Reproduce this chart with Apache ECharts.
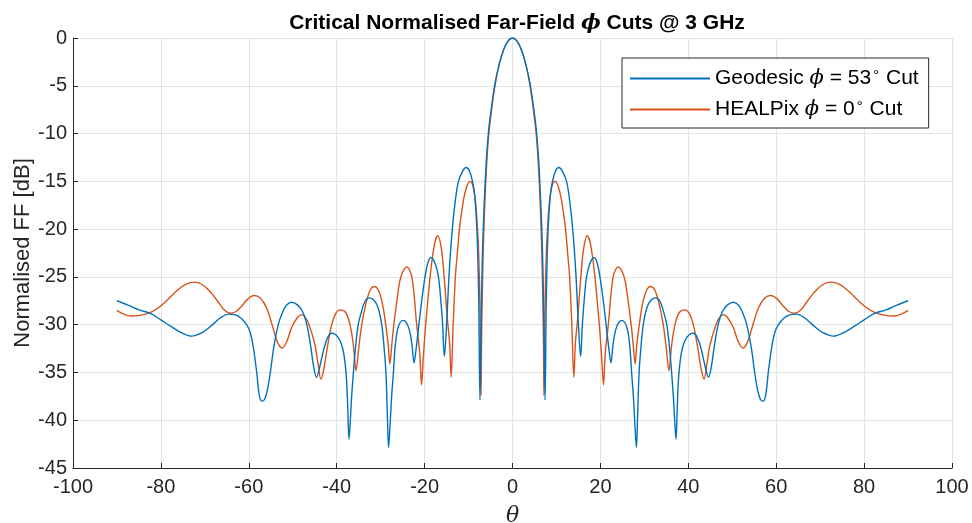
<!DOCTYPE html>
<html>
<head>
<meta charset="utf-8">
<script src="https://cdn.jsdelivr.net/npm/echarts@6/dist/echarts.min.js"></script>
<style>
html,body{margin:0;padding:0;background:#fff;}
#chart{width:972px;height:523px;}
</style>
</head>
<body>
<div id="chart"></div>
<script>
// Geodesic phi = 53 deg cut
var geoTheta = [
  -90, -87.5, -85, -82.5, -80, -78, -75.5, -73, -70.5, -68.5,
  -66.5, -64.6, -63.2, -61.8, -60.5, -59.7, -59, -58.2, -57.6, -57,
  -56.4, -55.8, -55.1, -54.3, -53.3, -52.5, -51.5, -50.3, -49, -47.8,
  -46.8, -46, -45.2, -44.6, -43.8, -42.9, -42, -41.1, -40.2, -39.2,
  -38.4, -37.8, -37.5, -37.2, -36.9, -36.6, -36.2, -35.7, -35.1, -34.4,
  -33.6, -32.6, -31.6, -30.6, -29.75, -29.2, -28.8, -28.5, -28.2, -27.8,
  -27.5, -27.1, -26.7, -26.2, -25.6, -24.9, -24.2, -23.5, -22.9, -22.4,
  -22, -21.3, -20.6, -19.9, -19.3, -18.6, -17.6, -16.85, -16.3, -15.9,
  -15.5, -15, -14.4, -13.7, -13, -12.3, -11.3, -10.55, -9.8, -9.1,
  -8.6, -8.1, -7.7, -7.4, -7.2, -7, -6.8, -6.5, -6, -5.5,
  -5, -4, -3, -2, -1, 0, 1, 2, 3, 4,
  5, 5.5, 6, 6.5, 6.8, 7, 7.2, 7.4, 7.7, 8.1,
  8.6, 9.1, 9.8, 10.55, 11.3, 12.3, 13, 13.7, 14.4, 15,
  15.5, 15.9, 16.3, 16.85, 17.6, 18.6, 19.3, 19.9, 20.6, 21.3,
  22, 22.4, 22.9, 23.5, 24.2, 24.9, 25.6, 26.2, 26.7, 27.1,
  27.5, 27.8, 28.2, 28.5, 28.8, 29.2, 29.75, 30.6, 31.6, 32.6,
  33.6, 34.4, 35.1, 35.7, 36.2, 36.6, 36.9, 37.2, 37.5, 37.8,
  38.4, 39.2, 40.2, 41.1, 42, 42.9, 43.8, 44.6, 45.2, 46,
  46.8, 47.8, 49, 50.3, 51.5, 52.5, 53.3, 54.3, 55.1, 55.8,
  56.4, 57, 57.6, 58.2, 59, 59.7, 60.5, 61.8, 63.2, 64.6,
  66.5, 68.5, 70.5, 73, 75.5, 78, 80, 82.5, 85, 87.5,
  90
];
var geoDb = [
  -27.5, -27.95, -28.45, -28.8, -29.5, -30.1, -30.8, -31.2, -30.8, -30.1,
  -29.3, -28.9, -28.95, -29.3, -30, -30.8, -32.3, -35, -37.4, -38,
  -37.8, -36.9, -35, -32.3, -30, -28.9, -28, -27.65, -27.9, -28.6,
  -30, -32, -34.5, -35.5, -34.3, -32.5, -31.3, -30.9, -31.05, -31.7,
  -33, -35.5, -38.5, -42, -40, -37.5, -35, -32.3, -30, -28.7,
  -27.6, -27.2, -27.4, -28.2, -30, -32.5, -35, -39, -42.85, -40,
  -37.5, -35, -32.3, -30.6, -29.8, -29.55, -29.75, -30.5, -32, -34,
  -32.8, -30, -27.3, -25, -23.6, -22.97, -23.6, -25, -27.5, -30,
  -33.3, -30, -24.5, -20, -17, -15, -13.9, -13.55, -13.9, -15,
  -16.5, -20, -27, -37.9, -32, -26, -22, -18, -13.2, -10,
  -8, -4.8, -2.7, -1.2, -0.3, 0, -0.3, -1.2, -2.7, -4.8,
  -8, -10, -13.2, -18, -22, -26, -32, -37.9, -27, -20,
  -16.5, -15, -13.9, -13.55, -13.9, -15, -17, -20, -24.5, -30,
  -33.3, -30, -27.5, -25, -23.6, -22.97, -23.6, -25, -27.3, -30,
  -32.8, -34, -32, -30.5, -29.75, -29.55, -29.8, -30.6, -32.3, -35,
  -37.5, -40, -42.85, -39, -35, -32.5, -30, -28.2, -27.4, -27.2,
  -27.6, -28.7, -30, -32.3, -35, -37.5, -40, -42, -38.5, -35.5,
  -33, -31.7, -31.05, -30.9, -31.3, -32.5, -34.3, -35.5, -34.5, -32,
  -30, -28.6, -27.9, -27.65, -28, -28.9, -30, -32.3, -35, -36.9,
  -37.8, -38, -37.4, -35, -32.3, -30.8, -30, -29.3, -28.95, -28.9,
  -29.3, -30.1, -30.8, -31.2, -30.8, -30.1, -29.5, -28.8, -28.45, -27.95,
  -27.5
];
// HEALPix phi = 0 deg cut
var healTheta = [
  -90, -88.5, -86.7, -84.5, -82.5, -80.5, -78.5, -76.5, -74.5, -72.3,
  -70.3, -68.5, -67, -65.5, -64.2, -63, -61.7, -60.2, -58.8, -57.4,
  -56, -54.7, -53.5, -52.4, -51.3, -50.25, -49, -48, -47.2, -46.3,
  -45, -44.2, -43.6, -43, -42.1, -41.15, -40.3, -39.3, -38, -36.97,
  -36.2, -35.6, -35, -34.3, -33.4, -32.4, -31.45, -30.5, -29.6, -28.85,
  -28.3, -27.9, -27.5, -27, -26.3, -25.4, -24.05, -22.9, -21.8, -21.1,
  -20.7, -20.3, -19.75, -18.75, -17.8, -17, -16.2, -15.55, -14.8, -14.3,
  -13.96, -13.5, -13, -12.6, -12.07, -11.6, -11, -10.3, -9.64, -9,
  -8.4, -7.96, -7.7, -7.4, -7.15, -7.05, -6.9, -6.7, -6.4, -6,
  -5.5, -5, -4, -3, -2, -1, 0, 1, 2, 3,
  4, 5, 5.5, 6, 6.4, 6.7, 6.9, 7.05, 7.15, 7.4,
  7.7, 7.96, 8.4, 9, 9.64, 10.3, 11, 11.6, 12.07, 12.6,
  13, 13.5, 13.96, 14.3, 14.8, 15.55, 16.2, 17, 17.8, 18.75,
  19.75, 20.3, 20.7, 21.1, 21.8, 22.9, 24.05, 25.4, 26.3, 27,
  27.5, 27.9, 28.3, 28.85, 29.6, 30.5, 31.45, 32.4, 33.4, 34.3,
  35, 35.6, 36.2, 36.97, 38, 39.3, 40.3, 41.15, 42.1, 43,
  43.6, 44.2, 45, 46.3, 47.2, 48, 49, 50.25, 51.3, 52.4,
  53.5, 54.7, 56, 57.4, 58.8, 60.2, 61.7, 63, 64.2, 65.5,
  67, 68.5, 70.3, 72.3, 74.5, 76.5, 78.5, 80.5, 82.5, 84.5,
  86.7, 88.5, 90
];
var healDb = [
  -28.5, -28.9, -29.1, -29, -28.75, -28.2, -27.4, -26.5, -25.8, -25.55,
  -25.9, -26.7, -27.6, -28.5, -28.8, -28.65, -28.1, -27.3, -26.95, -27.2,
  -28.2, -30, -31.8, -32.45, -31.7, -30.3, -29.3, -28.95, -29.2, -30,
  -32, -34.2, -35.7, -34.8, -32.3, -30, -28.9, -28.45, -28.7, -30,
  -32.2, -34.8, -32.5, -30, -27.9, -26.4, -26, -26.4, -27.8, -30,
  -32, -34.1, -32.3, -30, -27.5, -25, -23.95, -25, -30, -33,
  -36.3, -33.5, -30, -25, -21.7, -20.7, -22, -25, -29.5, -32,
  -35.5, -30, -25, -22.8, -20, -18.3, -16.6, -15.4, -15, -15.5,
  -17.2, -20, -22.5, -28, -37.4, -32, -27.5, -23, -18.5, -14.2,
  -10.6, -8.4, -5, -2.7, -1.2, -0.3, 0, -0.3, -1.2, -2.7,
  -5, -8.4, -10.6, -14.2, -18.5, -23, -27.5, -32, -37.4, -28,
  -22.5, -20, -17.2, -15.5, -15, -15.4, -16.6, -18.3, -20, -22.8,
  -25, -30, -35.5, -32, -29.5, -25, -22, -20.7, -21.7, -25,
  -30, -33.5, -36.3, -33, -30, -25, -23.95, -25, -27.5, -30,
  -32.3, -34.1, -32, -30, -27.8, -26.4, -26, -26.4, -27.9, -30,
  -32.5, -34.8, -32.2, -30, -28.7, -28.45, -28.9, -30, -32.3, -34.8,
  -35.7, -34.2, -32, -30, -29.2, -28.95, -29.3, -30.3, -31.7, -32.45,
  -31.8, -30, -28.2, -27.2, -26.95, -27.3, -28.1, -28.65, -28.8, -28.5,
  -27.6, -26.7, -25.9, -25.55, -25.8, -26.5, -27.4, -28.2, -28.75, -29,
  -29.1, -28.9, -28.5
];
var seriesNames = ['Geodesic \u03d5 = 53\u00b0 Cut', 'HEALPix \u03d5 = 0\u00b0 Cut'];
var xTicks = {min: -100, max: 100, step: 20};
var yTicks = {min: -45, max: 0, step: 5};

function pairs(t, d) { return t.map(function (v, i) { return [v, d[i]]; }); }

var FONT = '"Liberation Sans", Arial, Helvetica, sans-serif';
var SERIF = '"DejaVu Serif", serif';
var AX = '#262626';

var chart = echarts.init(document.getElementById('chart'), null, {renderer: 'canvas'});
chart.setOption({
  animation: false,
  backgroundColor: '#ffffff',
  title: {
    text: '{b|Critical Normalised Far-Field }{p|\u03d5}{b| Cuts @ 3 GHz}',
    left: 512, top: 8, textAlign: 'center',
    textStyle: {
      rich: {
        b: {fontSize: 21, fontWeight: 'bold', fontFamily: FONT, color: '#000'},
        p: {fontSize: 21, fontWeight: 'bold', fontStyle: 'italic', fontFamily: SERIF, color: '#000'}
      }
    }
  },
  grid: {left: 73, right: 20, top: 38, bottom: 55, containLabel: false, outerBoundsMode: 'none'},
  legend: {
    orient: 'vertical',
    left: 622, top: 58,
    padding: [10, 10, 8, 8],
    itemGap: 10,
    itemWidth: 80, itemHeight: 2,
    itemTextGap: 6,
    icon: 'rect',
    borderColor: AX, borderWidth: 1, backgroundColor: '#fff',
    data: seriesNames,
    formatter: function (name) {
      var m = name.split('\u03d5');
      var rest = m[1].split('\u00b0');
      return '{t|' + m[0] + '}{p|\u03d5}{t|' + rest[0] + '}{d|\u00b0}{t|' + rest[1] + '}';
    },
    textStyle: {
      rich: {
        t: {fontSize: 21, fontFamily: FONT, color: '#000', lineHeight: 24},
        p: {fontSize: 21, fontStyle: 'italic', fontFamily: SERIF, color: '#000', lineHeight: 24},
        d: {fontSize: 15, fontFamily: FONT, color: '#000', lineHeight: 24, padding: [0, 1, 6, 2]}
      }
    }
  },
  xAxis: {
    type: 'value', min: xTicks.min, max: xTicks.max, interval: xTicks.step,
    name: '\u03b8', nameLocation: 'middle', nameGap: 37, nameMoveOverlap: false,
    nameTextStyle: {fontFamily: SERIF, fontStyle: 'italic', fontSize: 22, color: AX},
    axisLine: {show: true, onZero: false, lineStyle: {color: AX, width: 1}},
    axisTick: {show: true, inside: true, length: 5, lineStyle: {color: AX}},
    axisLabel: {fontSize: 20, fontFamily: FONT, color: AX, margin: 9},
    splitLine: {show: true, lineStyle: {color: '#e3e3e3', width: 1}}
  },
  yAxis: {
    type: 'value', min: yTicks.min, max: yTicks.max, interval: yTicks.step,
    name: 'Normalised FF [dB]', nameLocation: 'middle', nameGap: 39, nameMoveOverlap: false,
    nameTextStyle: {fontFamily: FONT, fontSize: 22, color: AX},
    axisLine: {show: true, onZero: false, lineStyle: {color: AX, width: 1}},
    axisTick: {show: true, inside: true, length: 5, lineStyle: {color: AX}},
    axisLabel: {fontSize: 20, fontFamily: FONT, color: AX, margin: 6},
    splitLine: {show: true, lineStyle: {color: '#e3e3e3', width: 1}}
  },
  series: [
    {
      name: seriesNames[0], type: 'line', data: pairs(geoTheta, geoDb),
      showSymbol: false, symbol: 'none', smooth: 0.35,
      lineStyle: {color: '#0072BD', width: 1.4}, itemStyle: {color: '#0072BD'}, z: 3
    },
    {
      name: seriesNames[1], type: 'line', data: pairs(healTheta, healDb),
      showSymbol: false, symbol: 'none', smooth: 0.35,
      lineStyle: {color: '#D95319', width: 1.4}, itemStyle: {color: '#D95319'}, z: 2
    }
  ]
});
</script>
</body>
</html>
